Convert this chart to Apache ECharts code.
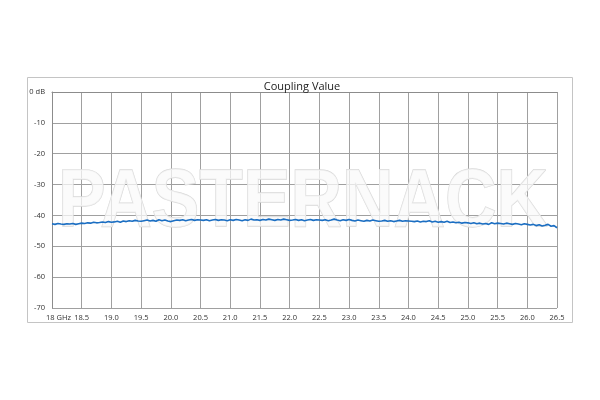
<!DOCTYPE html>
<html>
<head>
<meta charset="utf-8">
<script src="https://cdn.jsdelivr.net/npm/echarts@6/dist/echarts.min.js"></script>
<style>html,body{margin:0;padding:0;background:#fff}#c{width:600px;height:400px}</style>
</head>
<body>
<div id="c"></div>
<script>
// Coupling value samples (dB), every 0.05 GHz from 18.00 to 26.50 GHz
const startGHz = 18.0;
const stepGHz = 0.05;
const couplingDb = [
  -42.7,-42.9,-42.6,-42.8,-42.9,-42.7,-42.8,-42.6,-42.9,-42.7,-42.5,
  -42.6,-42.4,-42.5,-42.2,-42.4,-42.3,-42.1,-42.3,-42.0,-42.2,
  -42.1,-41.9,-42.2,-41.8,-42.0,-41.7,-41.9,-41.6,-41.8,-41.9,
  -41.7,-41.5,-41.8,-41.6,-41.9,-41.4,-41.7,-41.5,-41.8,-42.0,
  -41.7,-41.5,-41.6,-41.4,-41.7,-41.5,-41.3,-41.6,-41.4,-41.5,
  -41.6,-41.4,-41.7,-41.5,-41.3,-41.6,-41.4,-41.5,-41.7,-41.4,
  -41.6,-41.3,-41.5,-41.7,-41.4,-41.6,-41.2,-41.5,-41.4,-41.6,
  -41.3,-41.5,-41.2,-41.4,-41.6,-41.3,-41.5,-41.2,-41.4,-41.6,
  -41.5,-41.3,-41.6,-41.4,-41.7,-41.5,-41.3,-41.6,-41.4,-41.5,
  -41.6,-41.4,-41.7,-41.5,-41.2,-41.5,-41.7,-41.4,-41.6,-41.3,
  -41.6,-41.8,-41.5,-41.7,-41.9,-41.6,-41.8,-41.5,-41.7,-41.9,
  -41.8,-41.6,-41.9,-41.7,-42.0,-41.8,-41.6,-41.9,-41.7,-41.8,
  -41.9,-42.0,-41.8,-42.1,-41.9,-42.0,-41.7,-42.1,-41.9,-42.2,
  -42.0,-42.2,-41.9,-42.3,-42.1,-42.4,-42.2,-42.5,-42.3,-42.4,
  -42.6,-42.4,-42.7,-42.5,-42.8,-42.6,-42.9,-42.4,-42.7,-42.5,
  -42.6,-42.8,-42.5,-42.7,-42.9,-42.6,-42.8,-43.0,-42.7,-42.9,
  -43.1,-42.9,-43.3,-43.0,-43.4,-43.2,-42.9,-43.5,-43.3,-44.0
];
const xMin = 18, xMax = 26.5, xStep = 0.5;
const yMin = -70, yMax = 0, yStep = 10;
const titleText = 'Coupling Value';
const watermarkText = 'PASTERNACK';

const points = couplingDb.map((v, i) => [+(startGHz + i * stepGHz).toFixed(2), v]);

const chart = echarts.init(document.getElementById('c'), null, {renderer: 'canvas'});
const labelFont = '"Open Sans", "Liberation Sans", sans-serif';
chart.setOption({
  animation: false,
  backgroundColor: '#fff',
  title: {
    text: titleText, left: 297, top: 76, textAlign: 'center',
    textStyle: {fontSize: 11, fontWeight: 'normal', color: '#222', fontFamily: labelFont}
  },
  grid: {left: 52, right: 43, top: 92, bottom: 92},
  xAxis: {
    type: 'value', min: xMin, max: xMax, interval: xStep,
    axisLine: {show: true, lineStyle: {color: '#8c8c8c', width: 1}},
    axisTick: {show: false},
    splitLine: {show: true, lineStyle: {color: '#a0a0a0', width: 1}},
    axisLabel: {
      fontSize: 7.5, color: '#333', fontFamily: labelFont, margin: 6,
      showMinLabel: true, showMaxLabel: true, hideOverlap: false,
      formatter: v => v === xMin ? '{first|18 GHz}' : v.toFixed(1),
      rich: {first: {fontSize: 7.5, color: '#333', fontFamily: labelFont, padding: [0, 0, 0, 13]}}
    }
  },
  yAxis: {
    type: 'value', min: yMin, max: yMax, interval: yStep,
    axisLine: {show: true, lineStyle: {color: '#8c8c8c', width: 1}},
    axisTick: {show: false},
    splitLine: {show: true, lineStyle: {color: '#a0a0a0', width: 1}},
    axisLabel: {
      fontSize: 7.5, color: '#333', fontFamily: labelFont, margin: 7,
      showMinLabel: true, showMaxLabel: true,
      formatter: v => v === 0 ? '0 dB' : String(v)
    }
  },
  graphic: [
    {
      type: 'rect', z: -1, silent: true,
      shape: {x: 27.5, y: 77.5, width: 545, height: 245},
      style: {fill: 'none', stroke: '#c4c4c4', lineWidth: 1}
    },
    {
      type: 'text', z: 1, silent: true,
      x: 303, y: 203, scaleX: 0.87,
      style: {
        text: watermarkText, x: 0, y: 0, align: 'center', verticalAlign: 'middle',
        font: 'bold 82px "Liberation Sans", Arial, sans-serif',
        fill: 'rgba(250,250,250,0.75)', stroke: '#d9d9d9', lineWidth: 1.3
      }
    }
  ],
  series: [{
    type: 'line', data: points, showSymbol: false, z: 5,
    lineStyle: {color: '#1b6ec2', width: 1.6},
    itemStyle: {color: '#1b6ec2'}
  }]
});
</script>
</body>
</html>
